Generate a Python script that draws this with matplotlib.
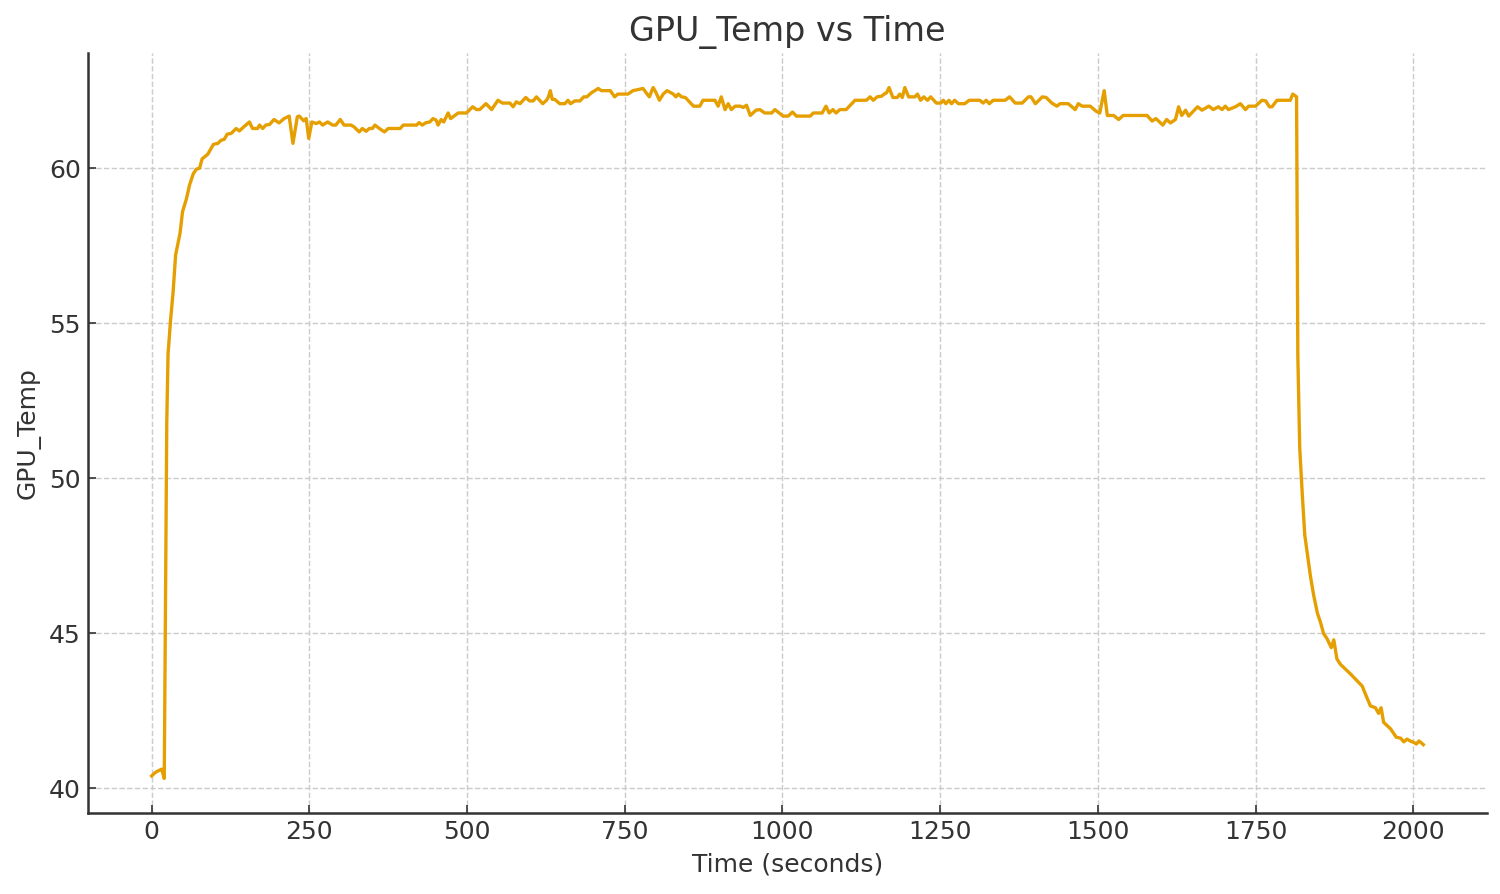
import matplotlib
matplotlib.use("Agg")
import matplotlib.pyplot as plt

# --- GPU temperature log ---
time_s = [
    0, 5, 9, 16, 20, 24, 26, 30, 34, 38, 45, 49, 55, 60, 66, 71, 76, 80, 89, 98,
    105, 110, 115, 120, 126, 134, 139, 147, 155, 160, 168, 171, 176, 181, 187, 194, 202, 210, 218, 224,
    231, 234, 241, 245, 249, 254, 261, 266, 271, 279, 287, 292, 299, 305, 316, 321, 329, 334, 340, 345,
    350, 354, 361, 369, 375, 394, 399, 420, 424, 429, 435, 441, 446, 451, 454, 459, 463, 470, 474, 486,
    499, 509, 515, 520, 530, 539, 549, 556, 568, 573, 578, 584, 593, 599, 605, 610, 620, 626, 629, 632,
    635, 639, 647, 655, 660, 664, 671, 679, 685, 690, 697, 708, 713, 727, 734, 739, 755, 763, 779, 784,
    789, 795, 799, 805, 811, 817, 827, 831, 835, 840, 846, 859, 869, 874, 893, 898, 903, 909, 914, 919,
    925, 933, 938, 943, 949, 958, 964, 972, 983, 988, 1001, 1009, 1016, 1022, 1044, 1049, 1063, 1069, 1074, 1080,
    1085, 1091, 1101, 1115, 1133, 1139, 1144, 1150, 1157, 1162, 1165, 1169, 1175, 1182, 1186, 1190, 1194, 1200, 1210, 1214,
    1219, 1224, 1230, 1235, 1244, 1251, 1255, 1259, 1264, 1268, 1273, 1279, 1289, 1296, 1313, 1318, 1323, 1328, 1334, 1353,
    1360, 1369, 1380, 1390, 1394, 1401, 1412, 1418, 1427, 1435, 1440, 1453, 1464, 1469, 1475, 1488, 1497, 1503, 1510, 1515,
    1525, 1533, 1540, 1578, 1586, 1592, 1603, 1609, 1615, 1623, 1628, 1633, 1639, 1644, 1658, 1665, 1676, 1683, 1691, 1697,
    1702, 1707, 1718, 1726, 1734, 1739, 1750, 1760, 1766, 1772, 1776, 1784, 1805, 1809, 1815, 1817, 1820, 1824, 1828, 1832,
    1837, 1842, 1848, 1853, 1858, 1863, 1870, 1874, 1879, 1885, 1900, 1919, 1924, 1932, 1940, 1945, 1949, 1953, 1964, 1973,
    1980, 1985, 1990, 1995, 2001, 2005, 2009, 2016,
]
gpu_temp = [
    40.4, 40.5, 40.55, 40.62, 40.32, 51.8, 54.0, 55.1, 56.0, 57.2, 57.9, 58.6, 59.0, 59.45, 59.82, 59.97, 60.0, 60.3, 60.45, 60.77,
    60.8, 60.9, 60.93, 61.1, 61.12, 61.28, 61.2, 61.35, 61.49, 61.28, 61.28, 61.39, 61.28, 61.39, 61.41, 61.57, 61.46, 61.6, 61.68, 60.8,
    61.66, 61.68, 61.53, 61.6, 60.96, 61.49, 61.44, 61.49, 61.39, 61.49, 61.39, 61.39, 61.57, 61.39, 61.39, 61.33, 61.17, 61.28, 61.19, 61.28,
    61.28, 61.39, 61.28, 61.17, 61.28, 61.28, 61.39, 61.39, 61.47, 61.39, 61.47, 61.49, 61.6, 61.55, 61.39, 61.57, 61.49, 61.78, 61.6, 61.78,
    61.78, 61.98, 61.89, 61.89, 62.08, 61.89, 62.19, 62.1, 62.1, 61.98, 62.14, 62.08, 62.28, 62.17, 62.17, 62.3, 62.08, 62.19, 62.3, 62.5,
    62.22, 62.22, 62.08, 62.08, 62.19, 62.08, 62.17, 62.17, 62.3, 62.3, 62.43, 62.57, 62.5, 62.5, 62.3, 62.39, 62.39, 62.5, 62.57, 62.43,
    62.3, 62.6, 62.46, 62.19, 62.39, 62.5, 62.39, 62.3, 62.39, 62.3, 62.28, 62.0, 62.0, 62.19, 62.19, 62.0, 62.3, 61.89, 62.08, 61.89,
    62.0, 62.0, 61.96, 62.03, 61.7, 61.87, 61.89, 61.78, 61.78, 61.89, 61.68, 61.68, 61.81, 61.68, 61.68, 61.78, 61.78, 62.0, 61.78, 61.89,
    61.78, 61.89, 61.89, 62.19, 62.19, 62.3, 62.19, 62.3, 62.32, 62.4, 62.43, 62.6, 62.28, 62.28, 62.39, 62.28, 62.6, 62.3, 62.3, 62.39,
    62.19, 62.3, 62.19, 62.3, 62.1, 62.1, 62.19, 62.08, 62.19, 62.08, 62.19, 62.08, 62.08, 62.19, 62.19, 62.1, 62.19, 62.08, 62.19, 62.19,
    62.3, 62.1, 62.1, 62.3, 62.3, 62.08, 62.3, 62.28, 62.1, 62.0, 62.08, 62.08, 61.89, 62.08, 62.0, 62.0, 61.84, 61.78, 62.5, 61.7,
    61.7, 61.57, 61.7, 61.7, 61.52, 61.6, 61.39, 61.57, 61.46, 61.57, 61.98, 61.7, 61.87, 61.68, 61.98, 61.87, 62.0, 61.89, 61.98, 61.89,
    62.0, 61.89, 61.98, 62.08, 61.89, 62.0, 62.0, 62.19, 62.17, 61.98, 61.98, 62.19, 62.19, 62.39, 62.3, 53.95, 50.98, 49.5, 48.17, 47.58,
    46.84, 46.24, 45.65, 45.35, 44.98, 44.84, 44.54, 44.79, 44.17, 43.99, 43.7, 43.3, 43.05, 42.66, 42.6, 42.42, 42.6, 42.13, 41.92, 41.65,
    41.62, 41.5, 41.59, 41.53, 41.48, 41.43, 41.53, 41.41,
]

TEXT = "#333333"

fig, ax = plt.subplots(figsize=(10, 5.96), dpi=150)
fig.subplots_adjust(left=0.0587, right=0.9913, bottom=0.0906, top=0.9407)

ax.plot(time_s, gpu_temp, color="#E69F00", linewidth=1.6)

ax.set_title("GPU_Temp vs Time", fontsize=16, color=TEXT)
ax.set_xlabel("Time (seconds)", fontsize=12, color=TEXT, labelpad=4)
ax.set_ylabel("GPU_Temp", fontsize=12, color=TEXT, labelpad=4)
ax.set_xticks([0, 250, 500, 750, 1000, 1250, 1500, 1750, 2000])
ax.set_yticks([40, 45, 50, 55, 60])
ax.tick_params(labelsize=12, labelcolor=TEXT, direction="in", color=TEXT, length=4)

ax.grid(True, linestyle="--", color="#cccccc", linewidth=0.7)
for side in ("top", "right"):
    ax.spines[side].set_visible(False)
for side in ("left", "bottom"):
    ax.spines[side].set_color(TEXT)
    ax.spines[side].set_linewidth(1.2)

fig.savefig("out.png", dpi=150)
